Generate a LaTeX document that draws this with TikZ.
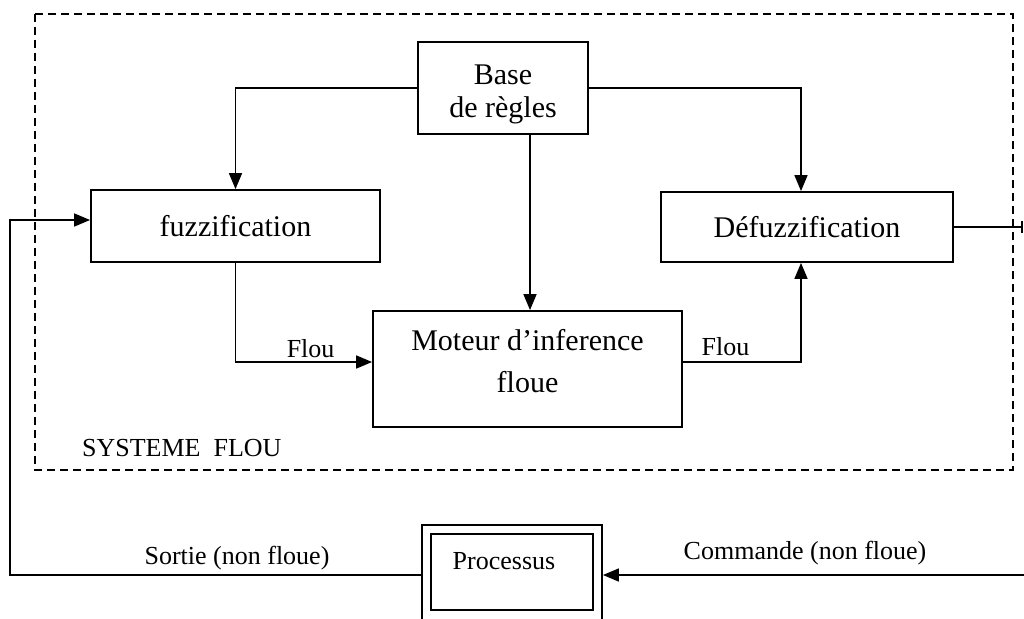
\documentclass[tikz,border=0pt]{standalone}
\usepackage{fontspec}
\setmainfont{Liberation Serif}
\usetikzlibrary{arrows.meta}

\begin{document}
\begin{tikzpicture}[x=1pt,y=-1pt,line width=1.6pt,
  bloc/.style={draw,rectangle,line width=1.8pt,inner sep=0pt},
  grand/.style={font=\fontsize{30}{33}\selectfont,align=center},
  petit/.style={font=\fontsize{26}{30}\selectfont},
  fleche/.style={-{Triangle[length=16pt,width=13pt]}}]
% The page stops the drawing on its right and bottom edges.
\clip (0,0) rectangle (1024,618);
% Dashed frame round the fuzzy system
\draw[dash pattern=on 8pt off 5pt] (35,14) rectangle (1013,470);
\node[petit,anchor=west] (systeme) at (78,448) {SYSTEME\ \ FLOU};
% The four blocks of the fuzzy controller
% (text height / depth only move the text inside its box)
\node[bloc,grand,minimum width=170,minimum height=92,text height=65pt] (base) at (503,88) {Base\\de règles};
\node[bloc,grand,minimum width=289,minimum height=72] (fuzz) at (235.5,226) {fuzzification};
\node[bloc,grand,minimum width=292,minimum height=70] (defuz) at (807,227) {Défuzzification};
\node[bloc,grand,minimum width=309,minimum height=116,text depth=16pt,
  font=\fontsize{30}{42}\selectfont] (moteur) at (527.5,369) {Moteur d’inference\\floue};
% The process, a double box cut by the bottom edge
\node[bloc,minimum width=180,minimum height=100] (procext) at (512,575) {};
\node[bloc,minimum width=162,minimum height=76] (procint) at (512,572) {};
\node[petit] (proctxt) at (504,561) {Processus};
% Rules go to the three other blocks.
\draw[fleche] (base.west) -| (fuzz.north);
\draw[fleche] (base.east) -| ([xshift=-6pt]defuz.north);
\draw[fleche] ([xshift=27pt]base.south) -- ([xshift=27pt]base.south |- moteur.north);
% Fuzzy values through the inference engine
\draw[fleche] (fuzz.south) |- ([yshift=7pt]moteur.west)
  node[petit,pos=0.775,above] (flou1) {Flou};
\draw[fleche] ([yshift=7pt]moteur.east) -| ([xshift=-6pt]defuz.south)
  node[petit,pos=0.18,above,yshift=2pt] (flou2) {Flou};
% Command out on the right, with its end tick
\coordinate (fin) at (1022,227);
\draw (defuz.east) -- (fin);
\draw ([yshift=6pt]fin) -- ([yshift=-6pt]fin);
% Feedback loop through the process
\coordinate (retour) at (10,575);
\draw[fleche] (procext.west) -- (retour) |- ([yshift=6pt]fuzz.west);
\coordinate (cmd) at (1030,575);
\draw[fleche] (cmd) -- (procext.east);
\node[petit] (sortie) at (237,558) {Sortie (non floue)};
\node[petit] (commande) at (805,553) {Commande (non floue)};
\end{tikzpicture}
\end{document}
